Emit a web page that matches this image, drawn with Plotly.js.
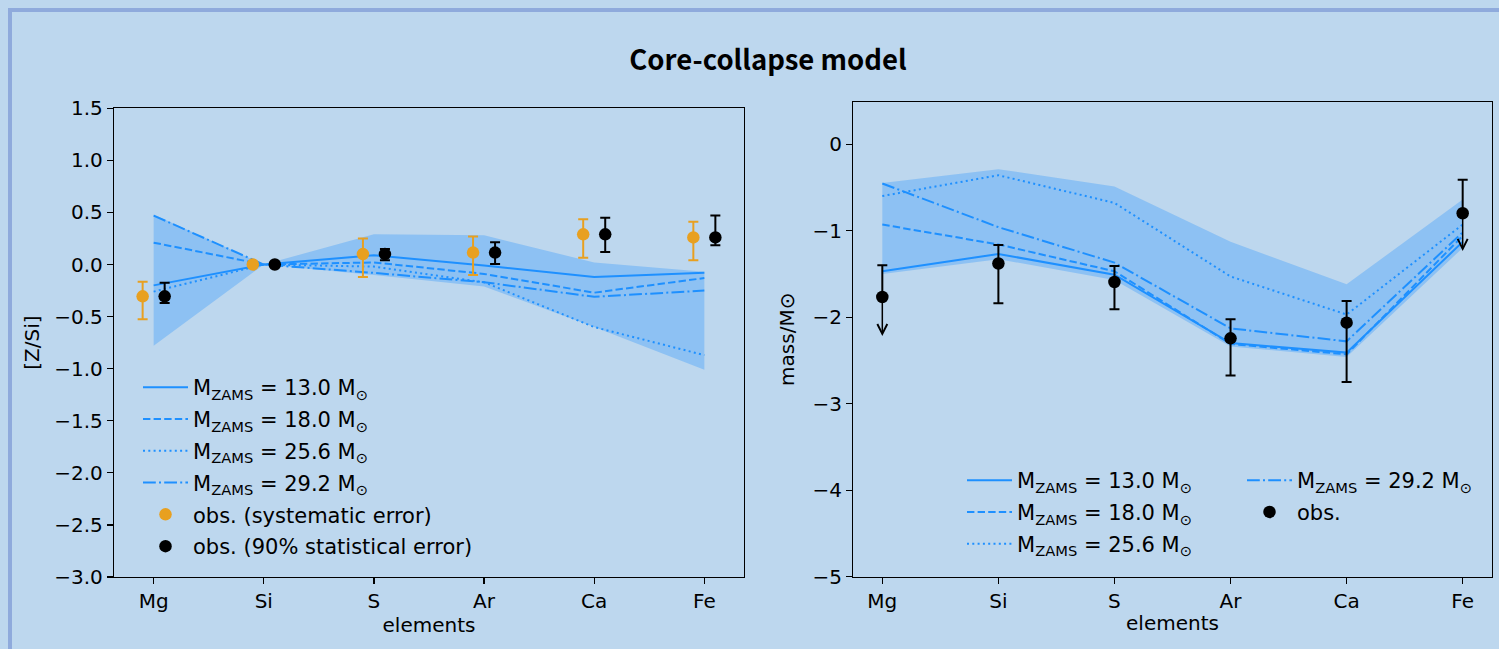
<!DOCTYPE html>
<html>
<head>
<meta charset="utf-8">
<script src="https://cdn.plot.ly/plotly-3.0.1.min.js"></script>
<style>
  html, body { margin: 0; padding: 0; background: #bdd7ee; }
  #chart { width: 1499px; height: 649px; }
</style>
</head>
<body>
<div id="chart"></div>
<script>
// Elements on the x axis
const elements = ['Mg', 'Si', 'S', 'Ar', 'Ca', 'Fe'];
const massLabels = ['13.0', '18.0', '25.6', '29.2'];

// Left panel: abundance ratios [Z/Si] of the core-collapse yields
const ratio130 = [-0.20, 0.00, 0.09, -0.01, -0.12, -0.08];
const ratio180 = [0.21, 0.00, 0.02, -0.09, -0.27, -0.13];
const ratio256 = [-0.26, 0.00, -0.02, -0.17, -0.60, -0.87];
const ratio292 = [0.47, 0.00, -0.08, -0.17, -0.31, -0.25];
const ratioBandLow = [-0.78, 0.00, -0.10, -0.21, -0.60, -1.01];
const ratioBandHigh = [0.48, 0.00, 0.29, 0.28, 0.02, -0.07];

// Observed ratios with systematic and 90% statistical errors
const obsRatio = [-0.305, 0.00, 0.10, 0.115, 0.29, 0.26];
const sysErrPlus = [0.14, 0.00, 0.15, 0.155, 0.145, 0.15];
const sysErrMinus = [0.22, 0.00, 0.22, 0.215, 0.225, 0.22];
const statErrPlus = [0.13, 0.00, 0.05, 0.10, 0.16, 0.21];
const statErrMinus = [0.065, 0.00, 0.06, 0.11, 0.17, 0.075];

// Right panel: log ejected masses (mass/M⊙)
const mass130 = [-1.47, -1.27, -1.51, -2.30, -2.41, -1.13];
const mass180 = [-0.93, -1.16, -1.47, -2.31, -2.43, -1.06];
const mass256 = [-0.60, -0.36, -0.68, -1.53, -1.97, -0.93];
const mass292 = [-0.455, -0.96, -1.37, -2.13, -2.28, -1.02];
const massBandLow = [-1.50, -1.33, -1.57, -2.34, -2.46, -1.20];
const massBandHigh = [-0.45, -0.29, -0.49, -1.13, -1.62, -0.64];

// Observed masses; upper limits are drawn as downward arrows
const obsMass = [-1.767, -1.38, -1.594, -2.245, -2.064, -0.799];
const obsMassPlus = [0.367, 0.215, 0.186, 0.22, 0.25, 0.386];
const obsMassMinus = [0.452, 0.46, 0.316, 0.43, 0.687, 0.436];
const upperLimit = [true, false, false, false, false, true];

const W = 1499, H = 649;
const blue = '#1e90ff';
const bandFill = 'rgba(30,144,255,0.3)';
const orange = '#e8a020';
const font = 'DejaVu Sans, sans-serif';
const dashes = ['solid', '7.4px,3.2px', '2px,3.3px', '12.8px,3.2px,2px,3.2px'];

const idx = elements.map((_, i) => i);
const shift = (d) => idx.map(i => i + d);
const legendText = (m) => 'M<sub>ZAMS</sub> = ' + m + ' M<sub>⊙</sub>';

const traces = [];

// ---------- left panel ----------
traces.push({x: idx, y: ratioBandLow, xaxis: 'x', yaxis: 'y', mode: 'lines',
  line: {width: 0, color: bandFill}, showlegend: false, hoverinfo: 'skip'});
traces.push({x: idx, y: ratioBandHigh, xaxis: 'x', yaxis: 'y', mode: 'lines', fill: 'tonexty',
  fillcolor: bandFill, line: {width: 0, color: bandFill}, showlegend: false, hoverinfo: 'skip'});

[ratio130, ratio180, ratio256, ratio292].forEach((ys, k) => {
  traces.push({x: idx, y: ys, xaxis: 'x', yaxis: 'y', mode: 'lines',
    line: {color: blue, width: 2, dash: dashes[k]},
    name: legendText(massLabels[k]), legend: 'legend', legendgroup: 'l' + k});
});

traces.push({x: shift(-0.1), y: obsRatio, xaxis: 'x', yaxis: 'y', mode: 'markers',
  marker: {color: orange, size: 12.5},
  error_y: {type: 'data', symmetric: false, array: sysErrPlus, arrayminus: sysErrMinus,
            color: orange, thickness: 2, width: 5},
  name: 'obs. (systematic error)', legend: 'legend', legendgroup: 'l4'});
traces.push({x: shift(0.1), y: obsRatio, xaxis: 'x', yaxis: 'y', mode: 'markers',
  marker: {color: '#000', size: 12.5},
  error_y: {type: 'data', symmetric: false, array: statErrPlus, arrayminus: statErrMinus,
            color: '#000', thickness: 2, width: 5},
  name: 'obs. (90% statistical error)', legend: 'legend', legendgroup: 'l5'});

// ---------- right panel ----------
traces.push({x: idx, y: massBandLow, xaxis: 'x2', yaxis: 'y2', mode: 'lines',
  line: {width: 0, color: bandFill}, showlegend: false, hoverinfo: 'skip'});
traces.push({x: idx, y: massBandHigh, xaxis: 'x2', yaxis: 'y2', mode: 'lines', fill: 'tonexty',
  fillcolor: bandFill, line: {width: 0, color: bandFill}, showlegend: false, hoverinfo: 'skip'});

[mass130, mass180, mass256, mass292].forEach((ys, k) => {
  traces.push({x: idx, y: ys, xaxis: 'x2', yaxis: 'y2', mode: 'lines',
    line: {color: blue, width: 2, dash: dashes[k]},
    name: legendText(massLabels[k]), legend: k < 3 ? 'legend2' : 'legend3', legendgroup: 'r' + k});
});

traces.push({x: idx, y: obsMass, xaxis: 'x2', yaxis: 'y2', mode: 'markers',
  marker: {color: '#000', size: 12.5},
  error_y: {type: 'data', symmetric: false, array: obsMassPlus,
            arrayminus: obsMassMinus.map((v, i) => upperLimit[i] ? 0 : v),
            color: '#000', thickness: 2, width: 5},
  name: 'obs.', legend: 'legend3', legendgroup: 'r4'});

// downward arrows for the upper limits
const limitArrows = idx.filter(i => upperLimit[i]).map(i => ({
  xref: 'x2', yref: 'y2', axref: 'x2', ayref: 'y2',
  x: i, y: obsMass[i] - obsMassMinus[i], ax: i, ay: obsMass[i],
  text: '', showarrow: true, arrowhead: 5, arrowsize: 1.3, arrowwidth: 1.5,
  arrowcolor: '#000', standoff: 0, startstandoff: 0
}));

// ---------- layout ----------
const px = (v) => v / W;           // horizontal pixel -> paper fraction
const py = (v) => 1 - v / H;       // vertical pixel (from top) -> paper fraction

const tickFont = {family: font, size: 20, color: '#000'};
const axisBase = {
  showline: true, mirror: true, linecolor: '#000', linewidth: 1.2,
  ticks: 'outside', ticklen: 6, tickwidth: 1.2, tickcolor: '#000',
  showgrid: false, zeroline: false, tickfont: tickFont, fixedrange: true
};
const legendBase = {
  xanchor: 'left', yanchor: 'top', bgcolor: 'rgba(0,0,0,0)', borderwidth: 0,
  font: {family: font, size: 21, color: '#000'}, traceorder: 'grouped', tracegroupgap: 1.5,
  itemwidth: 45
};

const layout = {
  width: W, height: H, autosize: false,
  margin: {l: 0, r: 0, t: 0, b: 0, pad: 0},
  paper_bgcolor: '#bdd7ee', plot_bgcolor: '#bdd7ee',
  title: {text: '<b>Core-collapse model</b>', x: px(768), xanchor: 'center',
          y: py(60), yanchor: 'middle', yref: 'container',
          font: {family: 'Noto Sans CJK SC, sans-serif', size: 27.5, color: '#000'}},
  xaxis: Object.assign({}, axisBase, {
    domain: [px(114), px(744)], anchor: 'y', range: [-0.36, 5.36],
    tickmode: 'array', tickvals: idx, ticktext: elements,
    title: {text: 'elements', font: tickFont, standoff: 4}
  }),
  yaxis: Object.assign({}, axisBase, {
    domain: [py(577), py(108.3)], anchor: 'x', range: [-3, 1.5],
    tick0: 0, dtick: 0.5, tickformat: '.1f',
    title: {text: '[Z/Si]', font: tickFont, standoff: 9}
  }),
  xaxis2: Object.assign({}, axisBase, {
    domain: [px(853.3), px(1491.7)], anchor: 'y2', range: [-0.25, 5.25],
    tickmode: 'array', tickvals: idx, ticktext: elements,
    title: {text: 'elements', font: tickFont, standoff: 4}
  }),
  yaxis2: Object.assign({}, axisBase, {
    domain: [py(576.7), py(101.7)], anchor: 'x2', range: [-5, 0.49],
    tick0: 0, dtick: 1, tickformat: 'd',
    title: {text: 'mass/M⊙', font: tickFont, standoff: 12}
  }),
  legend: Object.assign({}, legendBase, {x: px(138), y: py(367)}),
  legend2: Object.assign({}, legendBase, {x: px(962), y: py(460)}),
  legend3: Object.assign({}, legendBase, {x: px(1242), y: py(460)}),
  shapes: [
    {type: 'rect', xref: 'paper', yref: 'paper', x0: px(8), x1: 1, y0: py(12), y1: py(8),
     fillcolor: '#8faadc', line: {width: 0}, layer: 'below'},
    {type: 'rect', xref: 'paper', yref: 'paper', x0: px(8), x1: px(12), y0: 0, y1: py(8),
     fillcolor: '#8faadc', line: {width: 0}, layer: 'below'}
  ],
  annotations: limitArrows,
  showlegend: true
};

Plotly.newPlot('chart', traces, layout, {displayModeBar: false, staticPlot: true});
</script>
</body>
</html>
